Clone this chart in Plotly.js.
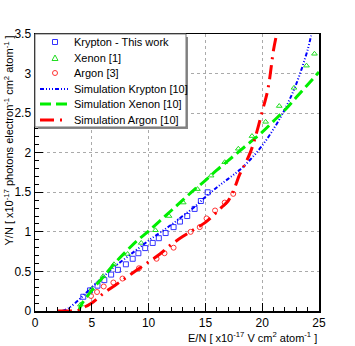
<!DOCTYPE html>
<html>
<head>
<meta charset="utf-8">
<script src="https://cdn.plot.ly/plotly-3.0.1.min.js"></script>
<style>
  html, body { margin: 0; padding: 0; background: #fff; }
  #chart { width: 355px; height: 346px; }
</style>
</head>
<body>
<div id="chart"></div>
<script>
// measured points
const krX = [4.25, 4.84, 5.5, 6.1, 6.7, 7.3, 8.0, 8.6, 9.1, 9.7, 10.36, 10.9, 11.5, 12.2, 12.76, 13.4, 14.05, 14.6, 15.2];
const krY = [0.18, 0.26, 0.32, 0.39, 0.46, 0.52, 0.59, 0.66, 0.73, 0.795, 0.86, 0.92, 0.985, 1.06, 1.13, 1.2, 1.29, 1.39, 1.5];

const xeX = [4.0, 5.0, 6.0, 6.95, 8.15, 9.35, 10.6, 11.8, 13.05, 14.3, 15.5, 16.7, 17.9, 19.1, 20.3, 21.5, 22.8, 23.9, 24.6];
const xeY = [0.08, 0.28, 0.44, 0.59, 0.72, 0.86, 1.02, 1.2, 1.37, 1.54, 1.71, 1.88, 2.05, 2.21, 2.39, 2.59, 2.82, 3.1, 3.25];

const arX = [4.93, 5.46, 6.05, 6.9, 7.7, 9.15, 10.7, 11.4, 12.2, 13.7, 14.5, 15.1, 15.85, 16.7, 17.45];
const arY = [0.19, 0.24, 0.31, 0.36, 0.41, 0.54, 0.66, 0.73, 0.8, 1.0, 1.06, 1.17, 1.27, 1.37, 1.48];

// simulations
const simKrX = [2.4, 3, 4, 5, 6, 7, 8, 9, 10, 11, 12, 13, 14, 15, 16, 17, 18, 19, 20, 21, 22, 23, 24, 24.3];
const simKrY = [0, 0.04, 0.16, 0.3, 0.43, 0.56, 0.67, 0.78, 0.89, 0.99, 1.09, 1.2, 1.31, 1.44, 1.56, 1.67, 1.78, 1.92, 2.09, 2.3, 2.55, 2.87, 3.3, 3.48];

const simXeX = [3.9, 4, 5, 6, 7, 8, 9, 10, 11, 12, 13, 14, 15, 16, 17, 18, 19, 20, 21, 22, 23, 24, 25];
const simXeY = [0, 0.06, 0.26, 0.43, 0.6, 0.75, 0.89, 1.01, 1.14, 1.27, 1.4, 1.53, 1.65, 1.78, 1.9, 2.02, 2.14, 2.26, 2.4, 2.54, 2.7, 2.86, 3.02];

const simArX = [2.0, 3.0, 3.6, 4, 4.5, 5, 6, 7, 8, 9, 10, 11, 12, 13, 14, 15, 15.5, 16, 16.5, 17, 17.5, 18, 18.5, 19, 19.5, 20, 20.5, 21, 21.2];
const simArY = [0, 0, 0, 0.02, 0.06, 0.1, 0.22, 0.32, 0.42, 0.52, 0.62, 0.72, 0.84, 0.94, 1.03, 1.12, 1.18, 1.25, 1.32, 1.39, 1.53, 1.72, 1.86, 2.02, 2.25, 2.52, 2.8, 3.3, 3.45];

const names = ["Krypton - This work", "Xenon [1]", "Argon [3]",
  "Simulation Krypton [10]", "Simulation Xenon [10]", "Simulation Argon [10]"];

const font = "Liberation Sans, Arial, sans-serif";
const cKr = "#3333ff", cXe = "#22dd22", cAr = "#ff3333";
const dKr = "4px,2px,1px,2px,1px,2px,1px,2px", dXe = "11px,5px", dAr = "14px,6px,2px,6px";

const data = [
  { x: krX, y: krY, name: names[0], type: "scatter", mode: "markers",
    marker: { symbol: "square-open", size: 5, color: cKr, line: { width: 1 } } },
  { x: xeX, y: xeY, name: names[1], type: "scatter", mode: "markers",
    marker: { symbol: "triangle-up-open", size: 5, color: cXe, line: { width: 1 } } },
  { x: arX, y: arY, name: names[2], type: "scatter", mode: "markers",
    marker: { symbol: "circle-open", size: 5, color: cAr, line: { width: 1 } } },
  { x: simKrX, y: simKrY, name: names[3], type: "scatter", mode: "lines",
    line: { color: "#0000ff", width: 2, dash: dKr, shape: "spline" } },
  { x: simXeX, y: simXeY, name: names[4], type: "scatter", mode: "lines",
    line: { color: "#00ee00", width: 3, dash: dXe, shape: "spline" } },
  { x: simArX, y: simArY, name: names[5], type: "scatter", mode: "lines",
    line: { color: "#ff0000", width: 3, dash: dAr, shape: "spline" } }
];

// legend drawn by hand (ROOT style box, tighter rows than plotly's legend)
const L = 35, T = 34, W = 284, H = 277;
const px = v => (v - L) / W;
const py = v => (T + H - v) / H;
const rowY = [42, 58, 73, 89, 104, 120];

const shapes = [
  { type: "rect", xref: "paper", yref: "paper", layer: "above",
    x0: px(38), x1: px(188), y0: py(37), y1: py(129), fillcolor: "#888", line: { width: 0 } },
  { type: "rect", xref: "paper", yref: "paper", layer: "above",
    x0: px(35), x1: px(186), y0: py(34), y1: py(127), fillcolor: "#fff", line: { color: "#777", width: 1 } },
  { type: "rect", xref: "paper", yref: "paper", layer: "above",
    x0: px(52.5), x1: px(57.5), y0: py(rowY[0] + 2.5), y1: py(rowY[0] - 2.5), line: { color: cKr, width: 1 } },
  { type: "path", xref: "paper", yref: "paper", layer: "above", line: { color: cXe, width: 1 },
    path: `M${px(52)},${py(rowY[1] + 2.5)} L${px(58)},${py(rowY[1] + 2.5)} L${px(55)},${py(rowY[1] - 3)} Z` },
  { type: "circle", xref: "paper", yref: "paper", layer: "above",
    x0: px(52.5), x1: px(57.5), y0: py(rowY[2] + 2.5), y1: py(rowY[2] - 2.5), line: { color: cAr, width: 1 } },
  { type: "line", xref: "paper", yref: "paper", layer: "above",
    x0: px(40), x1: px(68), y0: py(rowY[3]), y1: py(rowY[3]), line: { color: "#0000ff", width: 2, dash: dKr } },
  { type: "line", xref: "paper", yref: "paper", layer: "above",
    x0: px(40), x1: px(68), y0: py(rowY[4]), y1: py(rowY[4]), line: { color: "#00ee00", width: 3, dash: dXe } },
  { type: "line", xref: "paper", yref: "paper", layer: "above",
    x0: px(40), x1: px(68), y0: py(rowY[5]), y1: py(rowY[5]), line: { color: "#ff0000", width: 3, dash: dAr } }
];

const annotations = names.map((n, i) => ({
  xref: "paper", yref: "paper", x: px(72), y: py(rowY[i]), xanchor: "left", yanchor: "middle",
  showarrow: false, text: n, font: { family: font, size: 11, color: "#000" }
}));

annotations.push(
  { xref: "paper", yref: "paper", x: 1, y: -0.06, xanchor: "right", yanchor: "top",
    showarrow: false, font: { family: font, size: 11, color: "#000" },
    text: "E/N [ x10<sup>-17</sup> V cm<sup>2</sup> atom<sup>-1</sup> ]" },
  { xref: "paper", yref: "paper", x: -0.125, y: 1, xanchor: "left", yanchor: "top",
    textangle: -90, showarrow: false, font: { family: font, size: 11, color: "#000" },
    text: "Y/N [ x10<sup>-17</sup> photons electron<sup>-1</sup> cm<sup>2</sup> atom<sup>-1</sup> ]" }
);

const axisFont = { family: font, size: 12, color: "#000" };

const layout = {
  width: 355, height: 346,
  margin: { l: 35, r: 36, t: 34, b: 35 },
  paper_bgcolor: "#fff", plot_bgcolor: "#fff",
  showlegend: false,
  xaxis: {
    range: [0, 25], tick0: 0, dtick: 5, ticks: "inside", ticklen: 8, tickcolor: "#000",
    minor: { dtick: 1, ticks: "inside", ticklen: 4, tickcolor: "#000", showgrid: false },
    showgrid: true, gridcolor: "#aaa", griddash: "dot", gridwidth: 1,
    showline: true, linecolor: "#000", linewidth: 1.5, mirror: true,
    zeroline: false, tickfont: axisFont
  },
  yaxis: {
    range: [0, 3.5], tick0: 0, dtick: 0.5, ticks: "inside", ticklen: 8, tickcolor: "#000",
    minor: { dtick: 0.1, ticks: "inside", ticklen: 4, tickcolor: "#000", showgrid: false },
    showgrid: true, gridcolor: "#aaa", griddash: "dot", gridwidth: 1,
    showline: true, linecolor: "#000", linewidth: 1.5, mirror: true,
    zeroline: false, tickfont: axisFont
  },
  shapes: shapes,
  annotations: annotations
};

Plotly.newPlot("chart", data, layout, { displayModeBar: false, staticPlot: true });
</script>
</body>
</html>
